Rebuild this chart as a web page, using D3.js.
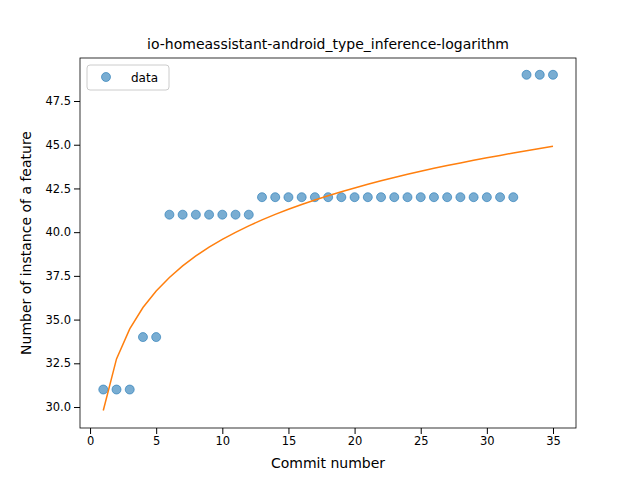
<!DOCTYPE html>
<html><head><meta charset="utf-8">
<script src="https://cdn.jsdelivr.net/npm/d3@7"></script>
<style>body{margin:0}text{font-family:"DejaVu Sans",sans-serif}</style>
</head><body><svg width="640" height="480"></svg>
<script>
const commits = d3.range(1, 36)
const counts = [31,31,31,34,34,41,41,41,41,41,41,41,42,42,42,42,42,42,42,42,42,42,42,42,42,42,42,42,42,42,42,42,49,49,49]
const fitValues = [29.8,32.75,34.47,35.69,36.64,37.41,38.07,38.64,39.14,39.59,39.99,40.36,40.70,41.02,41.31,41.58,41.84,42.08,42.31,42.53,42.74,42.94,43.13,43.31,43.48,43.65,43.81,43.96,44.11,44.26,44.39,44.53,44.66,44.79,44.91]
const xTicks = [0,5,10,15,20,25,30,35]
const yTicks = [30,32.5,35,37.5,40,42.5,45,47.5]

const svg = d3.select('svg')
const L = 80, R = 576, T = 58, B = 428
const x = d3.scaleLinear().domain([-0.76, 36.74]).range([L, R])
const y = d3.scaleLinear().domain([28.8, 49.96]).range([B, T])

svg.append('rect').attr('width', 640).attr('height', 480).attr('fill', 'white')

svg.append('g').attr('transform', `translate(0,${B})`)
    .call(d3.axisBottom(x).tickValues(xTicks).tickFormat(d3.format('d')).tickSizeOuter(0))
svg.append('g').attr('transform', `translate(${L},0)`)
    .call(d3.axisLeft(y).tickValues(yTicks).tickFormat(d3.format('.1f')).tickSizeOuter(0))
svg.selectAll('.tick text').attr('font-size', 11.5).attr('fill', '#000')
svg.selectAll('.tick line').attr('stroke', '#000')
svg.selectAll('.domain').remove()
svg.append('rect').attr('x', L).attr('y', T).attr('width', R - L).attr('height', B - T)
    .attr('fill', 'none').attr('stroke', '#000').attr('stroke-width', 0.8)

svg.selectAll('.pt').data(commits).enter().append('circle')
    .attr('cx', d => x(d)).attr('cy', (d, i) => y(counts[i])).attr('r', 4.5)
    .attr('fill', '#1f77b4').attr('fill-opacity', 0.6)
    .attr('stroke', '#1f77b4').attr('stroke-opacity', 0.6).attr('stroke-width', 1)

svg.append('path')
    .attr('d', d3.line().x(d => x(d)).y((d, i) => y(fitValues[i]))(commits))
    .attr('fill', 'none').attr('stroke', '#ff7f0e').attr('stroke-width', 1.5)

svg.append('text').attr('x', (L + R) / 2).attr('y', 49).attr('text-anchor', 'middle')
    .attr('font-size', 14).text('io-homeassistant-android_type_inference-logarithm')
svg.append('text').attr('x', (L + R) / 2).attr('y', 468).attr('text-anchor', 'middle')
    .attr('font-size', 14).text('Commit number')
svg.append('text').attr('transform', `translate(31,${(T + B) / 2}) rotate(-90)`)
    .attr('text-anchor', 'middle').attr('font-size', 14).text('Number of instance of a feature')

const lg = svg.append('g')
lg.append('rect').attr('x', 87).attr('y', 65).attr('width', 82).attr('height', 25).attr('rx', 3)
    .attr('fill', 'white').attr('stroke', '#ccc')
lg.append('circle').attr('cx', 106).attr('cy', 77).attr('r', 4.5).attr('fill', '#1f77b4').attr('fill-opacity', 0.6)
    .attr('stroke', '#1f77b4').attr('stroke-opacity', 0.6)
lg.append('text').attr('x', 131).attr('y', 81.5).attr('font-size', 12).text('data')
</script></body></html>
